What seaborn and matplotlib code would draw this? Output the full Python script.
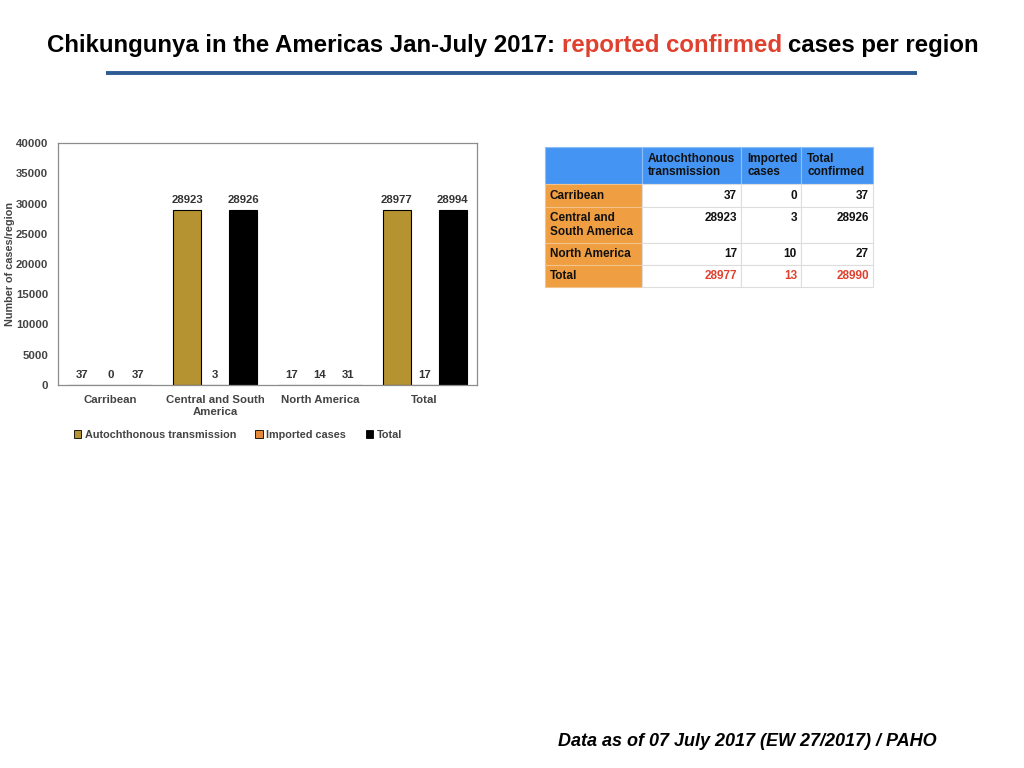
import numpy as np
import pandas as pd
import matplotlib
matplotlib.use("Agg")
import matplotlib.pyplot as plt
import seaborn as sns
from matplotlib.patches import Patch
from matplotlib.lines import Line2D

# chart data (as drawn in the bar chart)
regions = ["Carribean", "Central and South\nAmerica", "North America", "Total"]
autochthonous = [37, 28923, 17, 28977]
imported = [0, 3, 14, 17]
total = [37, 28926, 31, 28994]
series_names = ["Autochthonous transmission", "Imported cases", "Total"]
series_colors = ["#B59331", "#E58A3A", "#000000"]

# table data
table_cols = ["", "Autochthonous\ntransmission", "Imported\ncases", "Total\nconfirmed"]
table_rows = ["Carribean", "Central and\nSouth America", "North America", "Total"]
table_auto = [37, 28923, 17, 28977]
table_imp = [0, 3, 10, 13]
table_tot = [37, 28926, 27, 28990]

sns.set_theme(style="white")
plt.rcParams["font.family"] = ["Liberation Sans", "DejaVu Sans"]
plt.rcParams["text.color"] = "black"

W, H = 1024, 768
fig = plt.figure(figsize=(W / 100, H / 100), dpi=100)
fig.patch.set_facecolor("white")

# ---- bar chart
ax = fig.add_axes([58 / W, 1 - 385 / H, 419 / W, 242 / H])
df = pd.DataFrame({
    "region": regions * 3,
    "series": np.repeat(series_names, len(regions)),
    "cases": autochthonous + imported + total,
})
sns.barplot(data=df, x="region", y="cases", hue="series", hue_order=series_names,
            palette=dict(zip(series_names, series_colors)), saturation=1,
            width=0.8, edgecolor="black", linewidth=0.8, legend=False, ax=ax)

for cont in ax.containers:
    ax.bar_label(cont, fmt="%d", padding=3.5, fontsize=8.2, fontweight="bold", color="#333333")

ax.set_xlim(-0.5, 3.5)
ax.set_ylim(0, 40000)
ax.set_yticks(range(0, 40001, 5000))
ax.set_xlabel("")
ax.set_ylabel("Number of cases/region", fontsize=7.8, fontweight="bold", color="#444444", labelpad=0.5)
ax.tick_params(axis="both", length=0, labelsize=8.2, colors="#444444")
ax.tick_params(axis="y", pad=7)
ax.tick_params(axis="x", pad=7.5)
for lab in ax.get_xticklabels() + ax.get_yticklabels():
    lab.set_fontweight("bold")
for sp in ax.spines.values():
    sp.set_visible(True)
    sp.set_color("#8c8c8c")
    sp.set_linewidth(0.9)

handles = [Patch(facecolor=c, edgecolor="black", linewidth=0.6, label=n)
           for n, c in zip(series_names, series_colors)]
fig.legend(handles=handles, loc="center left", bbox_to_anchor=(64 / W, 1 - 435 / H),
           ncol=3, frameon=False, handlelength=0.7, handleheight=0.7,
           handletextpad=0.3, columnspacing=1.8, labelcolor="#444444",
           prop={"size": 7.8, "weight": "bold"})

# ---- table
tax = fig.add_axes([545 / W, 1 - 287 / H, 328 / W, 140 / H])
tax.axis("off")
cells = [table_cols]
for i, r in enumerate(table_rows):
    extra = "\n" if "\n" in r else ""
    cells.append([r, f"{table_auto[i]}{extra}", f"{table_imp[i]}{extra}", f"{table_tot[i]}{extra}"])

col_px = [97, 99, 60, 72]
row_px = [37, 23, 36, 22, 22]
tbl = tax.table(cellText=cells, colWidths=[c / sum(col_px) for c in col_px],
                bbox=[0, 0, 1, 1], cellLoc="right")
tbl.auto_set_font_size(False)
tbl.set_fontsize(8.5)
for (r, c), cell in tbl.get_celld().items():
    cell.set_height(row_px[r] / sum(row_px))
    cell.set_linewidth(0.8)
    txt = cell.get_text()
    txt.set_fontweight("bold")
    txt.set_color("#111111")
    if r == 0:
        cell.set_facecolor("#4495F3")
        cell.set_edgecolor("#8fbdf5")
        txt.set_horizontalalignment("left")
        cell.PAD = 6 / col_px[c]
    elif c == 0:
        cell.set_facecolor("#EF9E42")
        cell.set_edgecolor("#f3c38a")
        txt.set_horizontalalignment("left")
        cell.PAD = 5 / col_px[c]
    else:
        cell.set_facecolor("white")
        cell.set_edgecolor("#dddddd")
        cell.PAD = 4 / col_px[c]
        if r == len(row_px) - 1:
            txt.set_color("#E0412E")

# ---- title in two colours
parts = [("Chikungunya in the Americas Jan-July 2017:", "black"),
         ("reported confirmed", "#E0412E"),
         ("cases per region", "black")]
title_family = ["Liberation Sans Narrow", "Liberation Sans"]
renderer = fig.canvas.get_renderer()


def measure(size):
    ts = [fig.text(0, 0, s, color=col, fontsize=size, fontweight="bold",
                   family=title_family, va="baseline") for s, col in parts]
    probe1 = fig.text(0, 0, "x x", fontsize=size, fontweight="bold", family=title_family)
    probe2 = fig.text(0, 0, "xx", fontsize=size, fontweight="bold", family=title_family)
    gap = probe1.get_window_extent(renderer).width - probe2.get_window_extent(renderer).width
    probe1.remove()
    probe2.remove()
    widths = [t.get_window_extent(renderer).width for t in ts]
    return ts, widths, gap


size = 16
ts, widths, gap = measure(size)
full = sum(widths) + 2 * gap
for t in ts:
    t.remove()
size = size * 931 / full
ts, widths, gap = measure(size)
x = 47
for t, w in zip(ts, widths):
    t.set_position((x / W, 1 - 52 / H))
    x += w + gap

fig.add_artist(Line2D([106 / W, 917 / W], [1 - 72.5 / H] * 2, color="#2E5A96", lw=2.8,
                      solid_capstyle="butt"))

fig.text(937 / W, 1 - 741 / H, "Data as of 07 July 2017 (EW 27/2017) / PAHO",
         ha="right", va="center", fontsize=13, fontweight="bold", style="italic",
         color="black")

fig.savefig("out.png", dpi=100)
